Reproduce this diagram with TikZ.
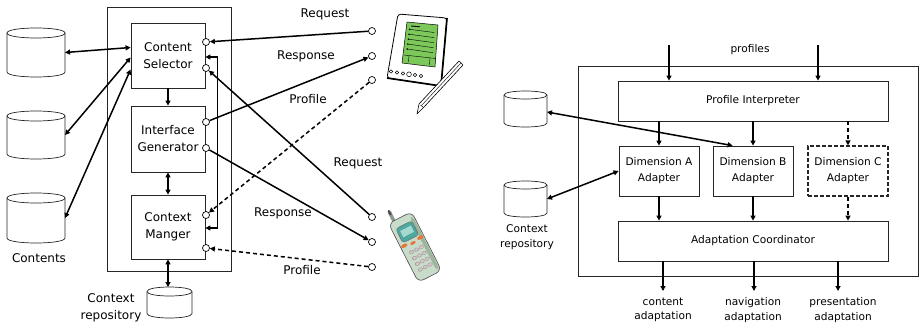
\documentclass[tikz,border=0pt]{standalone}
\usepackage{fontspec}
\setmainfont{DejaVu Sans}
\usetikzlibrary{arrows.meta}
\definecolor{pdagreen}{HTML}{7CC85A}
\definecolor{phonebody}{HTML}{C9DCC9}
\definecolor{phoneshade}{HTML}{9DB59D}
\definecolor{screenteal}{HTML}{4FA8A0}
\definecolor{screenlight}{HTML}{A6D8CF}
\definecolor{keyorange}{HTML}{E8743A}
\definecolor{keypink}{HTML}{D9C2CA}
\definecolor{antgray}{HTML}{8A9A8A}
% outline of a storage drum drawn over a named (invisible) rectangle node
% #1 = node name, #2 = vertical radius of the end ellipses
\newcommand\drumoutline[2]{%
  \draw[draw=black!85, fill=white, line width=0.7pt]
    ([yshift=-#2]#1.north west) -- ([yshift=#2]#1.south west)
    .. controls ([yshift=-#2/3]#1.south west) and ([yshift=-#2/3]#1.south east) ..
    ([yshift=#2]#1.south east) -- ([yshift=-#2]#1.north east)
    .. controls ([yshift=#2/3]#1.north east) and ([yshift=#2/3]#1.north west) ..
    cycle;
  \draw[draw=black!85, line width=0.7pt]
    ([yshift=-#2]#1.north west)
    .. controls ([yshift=-7*#2/3]#1.north west) and ([yshift=-7*#2/3]#1.north east) ..
    ([yshift=-#2]#1.north east);
}
\begin{document}
\begin{tikzpicture}[x=1pt,y=-1pt,
  font=\fontsize{12}{17}\selectfont,
  box/.style={draw=black!85, fill=white, line width=0.8pt, rectangle, inner sep=0pt, align=center},
  outerbox/.style={draw=black!85, line width=0.8pt, rectangle, inner sep=0pt},
  port/.style={circle, draw=black, fill=white, line width=0.7pt, inner sep=0pt, minimum size=7pt},
  drum/.style={rectangle, draw=none, inner sep=0pt, outer sep=0pt},
  arr/.style={line width=1.5pt, -{Triangle[length=5pt,width=5pt]}},
  dbl/.style={line width=1.5pt, {Triangle[length=5pt,width=5pt]}-{Triangle[length=5pt,width=5pt]}},
  dsh/.style={dash pattern=on 4pt off 3pt},
  lbl/.style={inner sep=0pt, align=center},
  smalltxt/.style={font=\fontsize{10.6}{16}\selectfont},
  smalllbl/.style={font=\fontsize{10.6}{14.5}\selectfont},
]
\useasboundingbox (0,0) rectangle (920,329);

% ---------- content server ----------
\node[outerbox, minimum width=124pt, minimum height=264pt] (srv) at (169,139) {};
\node[box, minimum width=74pt, minimum height=65pt] (cs) at (168,55.5) {Content\\Selector};
\node[box, minimum width=74pt, minimum height=66pt] (ig) at (168,139) {Interface\\Generator};
\node[box, minimum width=74pt, minimum height=64pt] (cm) at (168,227) {Context\\Manger};

\node[port] (cs1) at (206,42) {};
\node[port] (cs2) at (206,68) {};
\node[port] (ig1) at (206,122) {};
\node[port] (ig2) at (206,148) {};
\node[port] (cm1) at (206,215) {};
\node[port] (cm2) at (206,248) {};

% content stores
\node[drum, minimum width=58pt, minimum height=49pt] (c1) at (36,52.5) {};
\node[drum, minimum width=58pt, minimum height=48pt] (c2) at (36,135) {};
\node[drum, minimum width=58pt, minimum height=50pt] (c3) at (36,218) {};
\drumoutline{c1}{5pt}
\drumoutline{c2}{5pt}
\drumoutline{c3}{5pt}
\node[lbl] (contents) at (39,258) {Contents};
\node[drum, minimum width=45pt, minimum height=31pt] (repo) at (169.5,302.5) {};
\drumoutline{repo}{4.5pt}
\node[lbl] (repolbl) at (111,308) {Context\\repository};

% ---------- client devices ----------
\node[port] (pda1) at (372,31) {};
\node[port] (pda2) at (372,56) {};
\node[port] (pda3) at (372,80) {};
\node[port] (ph1) at (372,217) {};
\node[port] (ph2) at (372,242) {};
\node[port] (ph3) at (372,267) {};

% handheld with stylus
\begin{scope}[line join=round]
  \filldraw[fill=white, draw=black, line width=0.8pt, rounded corners=3pt]
    (398,14) -- (447,18) -- (441,86) -- (387,78) -- cycle;
  \draw[line width=1.7pt, rounded corners=3pt] (447,18) -- (441,86) -- (387,78);
  \filldraw[fill=pdagreen, draw=black, line width=0.5pt]
    (407,22) -- (438,25) -- (435,67) -- (402,63) -- cycle;
  \draw[line width=0.9pt] (411,26) -- (420,26.8);
  \foreach \t in {0.18,0.3,...,0.7}{
    \draw[line width=0.4pt] ({407-5*\t+4},{22+41*\t}) -- ({438-3*\t-3},{25+42*\t});
    \fill ({407-5*\t+3.5},{22+41*\t}) circle (0.9);
  }
  \draw[line width=0.4pt] (404,55) -- (436,58.5);
  \draw[line width=0.4pt] (409,55.6) -- (408.5,62);
  \draw[line width=0.4pt] (430,58) -- (429.5,65);
  \foreach \x/\y in {391/71.5,397/72.5,403/73.5,415/75,421/76}
    \draw[line width=0.5pt] (\x,\y) circle (1.8);
  \draw[line width=0.5pt] (409,74.3) circle (2.4);
  \filldraw[fill=white, draw=black, line width=0.6pt]
    (459,61) -- (463,65) -- (424,107) -- (417,114) -- (419,104) -- cycle;
  \draw[line width=0.5pt] (420.5,105) -- (423.5,107.5);
  \draw[line width=0.4pt] (461,63) -- (421.5,105.5);
\end{scope}

% mobile phone
\begin{scope}[shift={(415,247)}, rotate=27, line join=round]
  \draw[line width=3.5pt, antgray, line cap=round] (-7,-31) -- (-7,-43);
  \draw[line width=2pt, black!70, line cap=round] (-7,-40) -- (-7,-44);
  \filldraw[fill=phonebody, draw=black!70, line width=0.6pt, rounded corners=6pt] (-13,-33) rectangle (13,33);
  \fill[phoneshade, rounded corners=3pt] (8.5,-28) rectangle (12,30);
  \filldraw[fill=screenteal, draw=black!60, line width=0.4pt, rounded corners=3pt] (-9,-25) rectangle (9,-9);
  \fill[screenlight] (-6,-21) rectangle (6,-14);
  \fill[keyorange] (-9,-6) ellipse (3.5 and 1.8);
  \fill[keyorange] (9,-6) ellipse (3.5 and 1.8);
  \fill[keyorange] (0,-4.5) ellipse (3 and 1.5);
  \foreach \r in {0,...,3}
    \foreach \c in {-1,0,1}
      \filldraw[fill=keypink, draw=black!45, line width=0.3pt] ({5.5*\c},{3+6.5*\r}) ellipse (2.3 and 1.7);
\end{scope}

% ---------- connectors ----------
\draw[dbl] (c1.east) -- ([yshift=8pt]cs.west);
\draw[dbl] (c2.east) -- ([yshift=-2pt]cs.west);
\draw[dbl] (c3.east) -- ([yshift=-14pt]cs.west);
\draw[arr] (cs) -- (ig);
\draw[dbl] (ig) -- (cm);
\draw[dbl] (cm.south) -- (cm.south |- repo.north);
\draw[dbl] (cs.east |- 0,57) -- ++(12,0) |- (cm.east |- 0,228);

\draw[arr] (pda1) -- (cs1);
\draw[arr] (ig1) -- (pda2);
\draw[arr, dsh] (pda3) -- (cm1);
\draw[arr] (ph1) -- (cs2);
\draw[arr] (ig2) -- (ph2);
\draw[arr, dsh] (ph3) -- (cm2);

\node[lbl] (rq1) at (325,14) {Request};
\node[lbl] (rs1) at (306,56) {Response};
\node[lbl] (pf1) at (308,99) {Profile};
\node[lbl] (rq2) at (358,163) {Request};
\node[lbl] (rs2) at (283,213) {Response};
\node[lbl] (pf2) at (302,270) {Profile};

% ---------- adaptation engine ----------
\node[outerbox, minimum width=340pt, minimum height=210pt] (eng) at (748,171) {};
\node[box, smalltxt, minimum width=270pt, minimum height=40pt] (pi) at (753,101) {Profile Interpreter};
\node[box, smalltxt, minimum width=80pt, minimum height=50pt] (da) at (659,171) {Dimension A\\Adapter};
\node[box, smalltxt, minimum width=80pt, minimum height=50pt] (db) at (753,171) {Dimension B\\Adapter};
\node[box, smalltxt, minimum width=80pt, minimum height=50pt, line width=1.2pt, dash pattern=on 4pt off 2pt] (dc) at (848,171) {Dimension C\\Adapter};
\node[box, smalltxt, minimum width=270pt, minimum height=40pt] (ac) at (753,241) {Adaptation Coordinator};

\node[drum, minimum width=43pt, minimum height=36pt] (cr1) at (525.5,109) {};
\node[drum, minimum width=43pt, minimum height=36pt] (cr2) at (525.5,199) {};
\drumoutline{cr1}{4pt}
\drumoutline{cr2}{4pt}
\node[lbl, smalllbl] (crlbl) at (527,237) {Context\\repository};

\coordinate (in1) at (669,45);
\coordinate (in2) at (818,45);
\node[lbl, smalltxt] (proflbl) at (750,50) {profiles};
\draw[arr] (in1) -- (in1 |- pi.north);
\draw[arr] (in2) -- (in2 |- pi.north);

\draw[arr] (pi.south -| da) -- (da);
\draw[arr] (pi.south -| db) -- (db);
\draw[arr, dsh] (pi.south -| dc) -- (dc);
\draw[arr] (da) -- (da |- ac.north);
\draw[arr] (db) -- (db |- ac.north);
\draw[arr, dsh] (dc) -- (dc |- ac.north);

\draw[dbl] ([yshift=-3pt]cr1.east) -- ([xshift=20pt]db.north west);
\draw[dbl] (cr2.east) -- (da.west);

\coordinate (o1) at (663,291);
\coordinate (o2) at (754,291);
\coordinate (o3) at (838,291);
\draw[arr] (ac.south -| o1) -- (o1);
\draw[arr] (ac.south -| o2) -- (o2);
\draw[arr] (ac.south -| o3) -- (o3);
\node[lbl, smalllbl] (out1) at (663,310) {content\\adaptation};
\node[lbl, smalllbl] (out2) at (753,310) {navigation\\adaptation};
\node[lbl, smalllbl] (out3) at (843,310) {presentation\\adaptation};
\end{tikzpicture}
\end{document}
